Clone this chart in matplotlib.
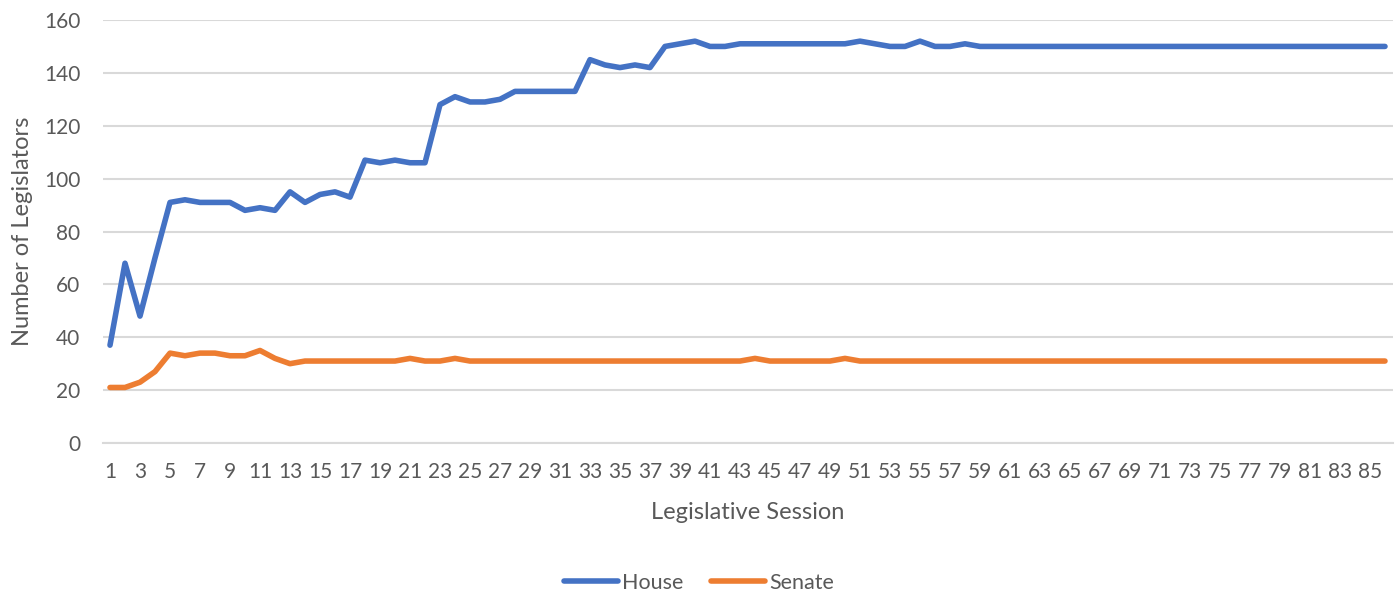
import matplotlib
matplotlib.use("Agg")
import matplotlib.pyplot as plt
import numpy as np

sessions = list(range(1, 87))
house = [37, 68, 48, 70, 91, 92, 91, 91, 91, 88,
         89, 88, 95, 91, 94, 95, 93, 107, 106, 107,
         106, 106, 128, 131, 129, 129, 130, 133, 133, 133,
         133, 133, 145, 143, 142, 143, 142, 150, 151, 152,
         150, 150, 151, 151, 151, 151, 151, 151, 151, 151,
         152, 151, 150, 150, 152, 150, 150, 151, 150] + [150] * 27
senate = [21, 21, 23, 27, 34, 33, 34, 34, 33, 33,
          35, 32, 30, 31, 31, 31, 31, 31, 31, 31,
          32, 31, 31, 32] + [31] * 19 + [32] + [31] * 5 + [32] + [31] * 36
yticks = [0, 20, 40, 60, 80, 100, 120, 140, 160]

plt.rcParams['font.family'] = ['Lato', 'DejaVu Sans']
fig = plt.figure(figsize=(13.98, 5.92), dpi=100)
ax = fig.add_axes([102.5/1398, 1-443/592, 1290/1398, 423/592])

x = np.arange(len(sessions))
ax.plot(x, house, color='#4472C4', lw=4.0, solid_joinstyle='round', solid_capstyle='round', label='House')
ax.plot(x, senate, color='#ED7D31', lw=4.0, solid_joinstyle='round', solid_capstyle='round', label='Senate')

ax.set_xlim(-0.5, len(sessions) - 0.5)
ax.set_ylim(0, 160)
ax.set_yticks(yticks)
ax.set_xticks(x[::2])
ax.set_xticklabels([str(s) for s in sessions[::2]])
ax.grid(axis='y', color='#d9d9d9', lw=1.5)
ax.set_axisbelow(True)
for s in ['top', 'right', 'left']:
    ax.spines[s].set_visible(False)
ax.spines['bottom'].set_color('#d9d9d9')
ax.spines['bottom'].set_linewidth(1.5)
ax.tick_params(axis='both', length=0, labelsize=15, colors='#595959')
ax.tick_params(axis='y', pad=16)
ax.tick_params(axis='x', pad=14)
ax.set_xlabel('Legislative Session', fontsize=17, color='#595959', labelpad=14)
ax.set_ylabel('Number of Legislators', fontsize=17, color='#595959', labelpad=8)

leg = fig.legend(loc='center', bbox_to_anchor=(0.5, 1-583/592), ncol=2, frameon=False,
                 fontsize=15.5, handlelength=2.5, columnspacing=1.3, handletextpad=0.2)
for t in leg.get_texts():
    t.set_color('#595959')

fig.savefig('out.png', dpi=100)
